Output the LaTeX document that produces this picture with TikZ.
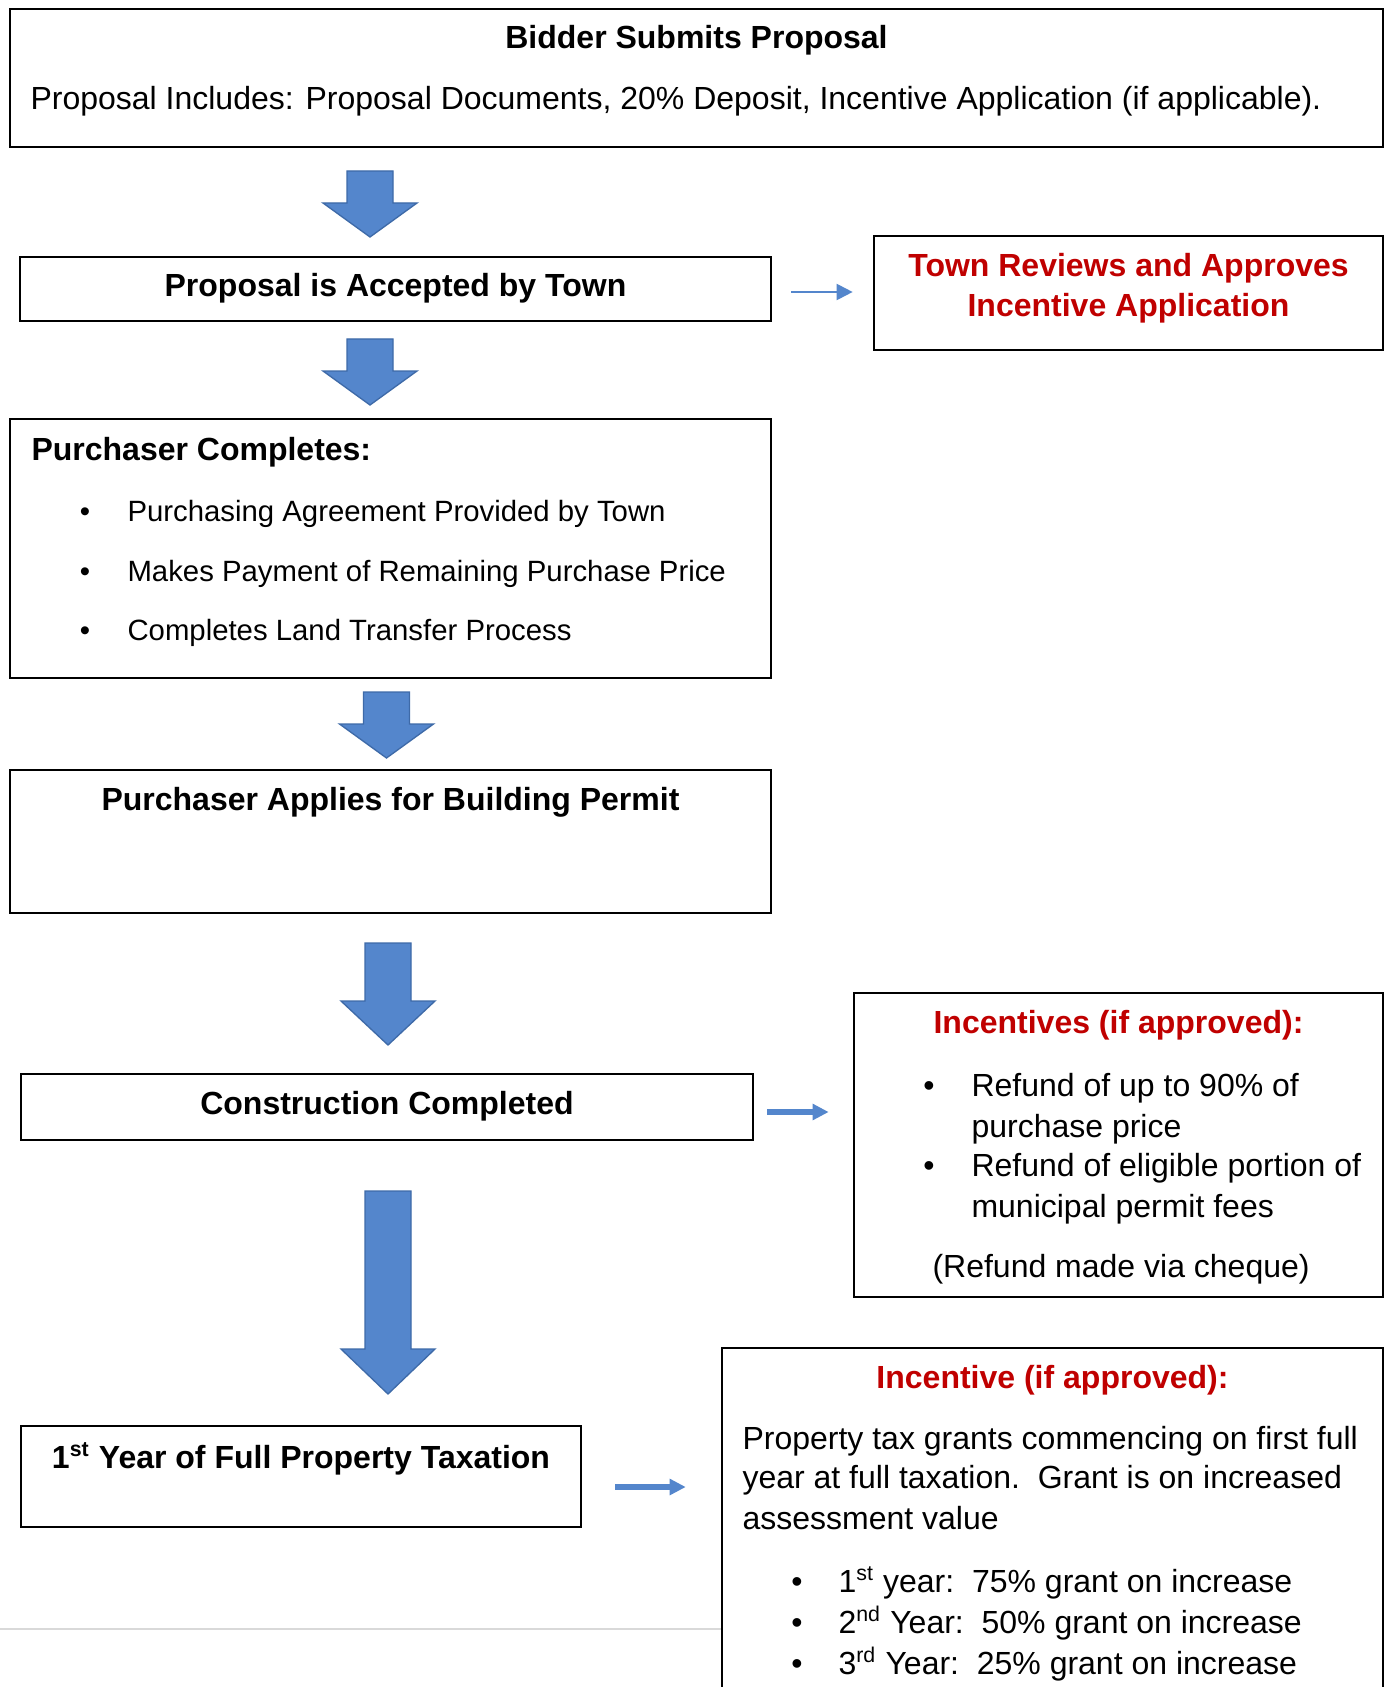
\documentclass[tikz,border=0pt]{standalone}
\usepackage{fontspec}
\setmainfont{Liberation Sans}
\usetikzlibrary{arrows.meta,fit}
\definecolor{arrfill}{RGB}{84,134,204}
\definecolor{arrline}{RGB}{62,106,168}
\definecolor{redtxt}{RGB}{192,0,0}
\definecolor{rulegray}{RGB}{217,217,217}
\tikzset{
  box/.style={draw=black, line width=0.6pt, inner sep=0pt},
  blk/.style={fill=arrfill, draw=arrline, line width=0.5pt, line join=miter},
  conn/.style={draw=arrfill},
  ttl/.style={font=\bfseries\fontsize{12}{14}\selectfont, inner sep=0pt, anchor=base},
  rttl/.style={ttl, text=redtxt},
  txt/.style={font=\fontsize{12}{14}\selectfont, inner sep=0pt, anchor=base west},
  stxt/.style={font=\fontsize{11}{13}\selectfont, inner sep=0pt, anchor=base west},
  bul/.style={font=\fontsize{12}{14}\selectfont, inner sep=0pt, anchor=base},
  sbul/.style={font=\fontsize{11}{13}\selectfont, inner sep=0pt, anchor=base},
}
\newcommand\blockarr[5]{% name, cx, top, base, tip
  \coordinate (#1) at (#2,#3);
  \draw[blk] (#2-23,#3) -- (#2+23,#3) -- (#2+23,#4) -- (#2+47,#4) -- (#2,#5) -- (#2-47,#4) -- (#2-23,#4) -- cycle;}
\begin{document}
\begin{tikzpicture}[x=0.375pt,y=-0.375pt]
\clip (0,0) rectangle (1390,1687);
\fill[white] (0,0) rectangle (1390,1687);

% separator line
\draw[rulegray, line width=0.75pt] (0,1629) -- (722,1629);

% boxes
\node[box, fit={(10,9) (1383,147)}] (b1) {};
\node[box, fit={(20,257) (771,321)}] (b2) {};
\node[box, fit={(874,236) (1383,350)}] (red) {};
\node[box, fit={(10,419) (771,678)}] (b3) {};
\node[box, fit={(10,770) (771,913)}] (b4) {};
\node[box, fit={(21,1074) (753,1140)}] (b5) {};
\node[box, fit={(854,993) (1383,1297)}] (inc) {};
\node[box, fit={(21,1426) (581,1527)}] (b6) {};
\node[box, fit={(722,1348) (1383,1730)}] (tax) {};

% block arrows
\blockarr{a1}{370}{171}{203}{237}
\blockarr{a2}{370}{339}{371}{405}
\blockarr{a3}{386.5}{692}{724}{758}
\blockarr{a4}{388}{943}{1001}{1045}
\blockarr{a5}{388}{1191}{1349}{1394}

% small connectors
\coordinate (s1) at (0,292);
\coordinate (s2) at (0,1112);
\coordinate (s3) at (0,1487);
\draw[conn, line width=0.75pt, -{Triangle[length=6pt,width=6pt]}, shorten <=7.2pt, shorten >=7.7pt] (b2.east|-s1) -- (red.west|-s1);
\draw[conn, line width=1.9pt, -{Triangle[length=6pt,width=5.8pt]}, shorten <=5pt, shorten >=9.2pt] (b5.east|-s2) -- (inc.west|-s2);
\draw[conn, line width=1.9pt, -{Triangle[length=6pt,width=5.8pt]}, shorten <=12.5pt, shorten >=13.3pt] (b6.east|-s3) -- (tax.west|-s3);

% texts box 1
\node[ttl] (t1) at (696.5,49) {Bidder Submits Proposal};
\node[txt] (t1b) at (30,110) {Proposal Includes: Proposal Documents, 20\% Deposit, Incentive Application (if applicable).};

% box 2 and red box
\node[ttl] (t2) at (395.5,297) {Proposal is Accepted by Town};
\node[rttl] (r1) at (1128.5,277) {Town Reviews and Approves};
\node[rttl] (r2) at (1128.5,317) {Incentive Application};

% box 3
\node[ttl, anchor=base west] (t3) at (31,460) {Purchaser Completes:};
\node[sbul] (p1b) at (85,521) {•};
\node[sbul] (p2b) at (85,581) {•};
\node[sbul] (p3b) at (85,640) {•};
\node[stxt] (p1) at (127,521) {Purchasing Agreement Provided by Town};
\node[stxt] (p2) at (127,581) {Makes Payment of Remaining Purchase Price};
\node[stxt] (p3) at (127,640) {Completes Land Transfer Process};

% box 4, 5
\node[ttl] (t4) at (390.5,810) {Purchaser Applies for Building Permit};
\node[ttl] (t5) at (387,1114) {Construction Completed};

% incentives box
\node[rttl] (t6) at (1118.5,1033) {Incentives (if approved):};
\node[bul] (i1b) at (929,1096) {•};
\node[bul] (i2b) at (929,1176) {•};
\node[txt] (i1) at (971,1096) {Refund of up to 90\% of};
\node[txt] (i1c) at (971,1137) {purchase price};
\node[txt] (i2) at (971,1176) {Refund of eligible portion of};
\node[txt] (i2c) at (971,1217) {municipal permit fees};
\node[txt] (i3) at (932,1277) {(Refund made via cheque)};

% box 6
\node[ttl] (t7) at (301,1468) {1\textsuperscript{st} Year of Full Property Taxation};

% tax incentive box
\node[rttl] (t8) at (1052.5,1388) {Incentive (if approved):};
\node[txt] (x1) at (742,1449) {Property tax grants commencing on first full};
\node[txt] (x2) at (742,1488) {year at full taxation.\ \ Grant is on increased};
\node[txt] (x3) at (742,1529) {assessment value};
\node[bul] (y1b) at (797,1592) {•};
\node[bul] (y2b) at (797,1633) {•};
\node[bul] (y3b) at (797,1674) {•};
\node[txt] (y1) at (838,1592) {1\textsuperscript{st} year:\ \ 75\% grant on increase};
\node[txt] (y2) at (838,1633) {2\textsuperscript{nd} Year:\ \ 50\% grant on increase};
\node[txt] (y3) at (838,1674) {3\textsuperscript{rd} Year:\ \ 25\% grant on increase};
\end{tikzpicture}
\end{document}
